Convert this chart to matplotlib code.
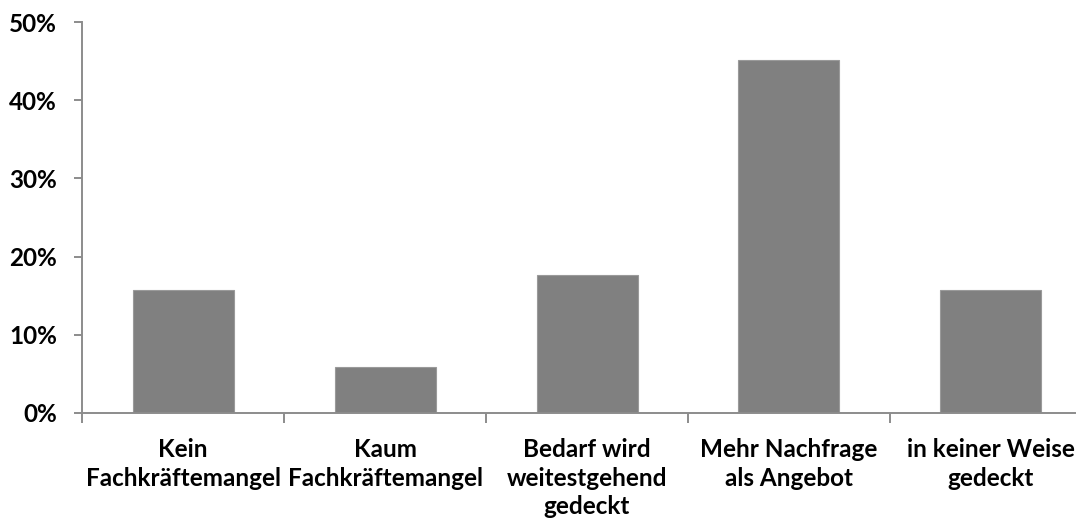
import matplotlib
matplotlib.use("Agg")
import matplotlib.pyplot as plt
from matplotlib.ticker import FixedLocator, PercentFormatter

categories = [
    "Kein\nFachkräftemangel",
    "Kaum\nFachkräftemangel",
    "Bedarf wird\nweitestgehend\ngedeckt",
    "Mehr Nachfrage\nals Angebot",
    "in keiner Weise\ngedeckt",
]
shares = [0.157, 0.059, 0.176, 0.451, 0.157]
y_ticks = [0.0, 0.1, 0.2, 0.3, 0.4, 0.5]

W, H = 1083, 522
fig = plt.figure(figsize=(W / 100, H / 100), dpi=100)
ax = fig.add_axes([82 / W, (H - 413) / H, (1075 - 82) / W, (413 - 22) / H])

axis_grey = "#8c8c8c"
font = dict(family=["Lato", "DejaVu Sans"], weight="bold", size=17.5)

x = list(range(len(categories)))
ax.bar(x, shares, width=0.5, color="#808080", edgecolor="#9a9a9a", linewidth=0.8, zorder=2)

ax.set_xlim(-0.5, -0.5 + (1075 - 82) / 202)
ax.set_ylim(0, 0.5)

for side in ("top", "right"):
    ax.spines[side].set_visible(False)
for side in ("left", "bottom"):
    ax.spines[side].set_color(axis_grey)
    ax.spines[side].set_linewidth(1.4)

ax.yaxis.set_major_locator(FixedLocator(y_ticks))
ax.yaxis.set_major_formatter(PercentFormatter(1.0, decimals=0))
ax.tick_params(axis="y", direction="out", length=6, width=1.4, color=axis_grey, pad=12)
for lbl in ax.get_yticklabels():
    lbl.set(**font)

# category boundaries carry the tick marks, centres carry the labels
ax.xaxis.set_major_locator(FixedLocator([i - 0.5 for i in range(len(categories) + 1)]))
ax.xaxis.set_major_formatter(plt.NullFormatter())
ax.tick_params(axis="x", which="major", direction="out", length=7, width=1.4, color=axis_grey)
ax.set_xticks(x, minor=True)
ax.set_xticklabels(categories, minor=True)
ax.tick_params(axis="x", which="minor", length=0, pad=18)
for lbl in ax.get_xticklabels(minor=True):
    lbl.set(**font)
    lbl.set_linespacing(1.3)
    lbl.set_horizontalalignment("center")

fig.savefig("out.png", dpi=100, facecolor="white")
